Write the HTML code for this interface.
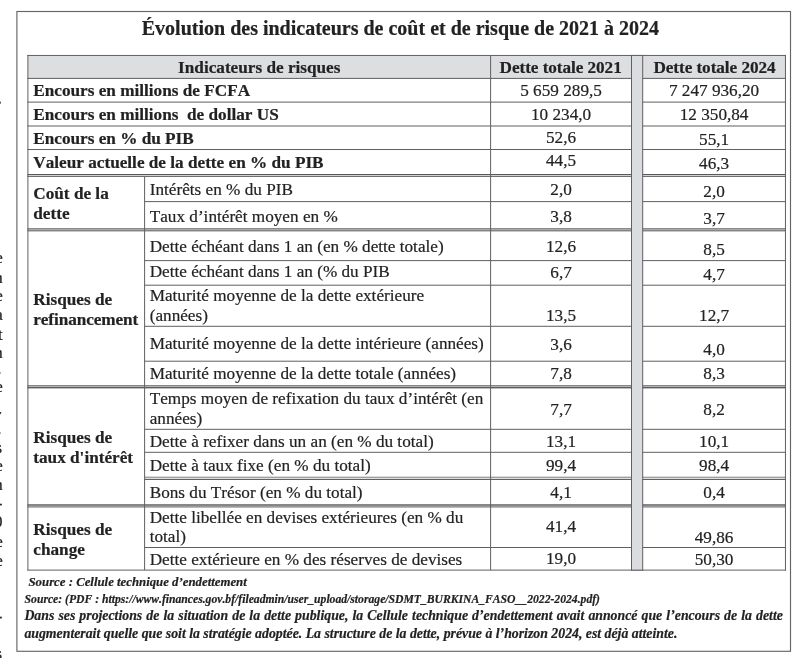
<!DOCTYPE html>
<html lang="fr"><head><meta charset="utf-8"><title>Évolution des indicateurs de coût et de risque de 2021 à 2024</title>
<style>
html,body{margin:0;padding:0;background:#fff;}
body{width:800px;height:658px;position:relative;overflow:hidden;font-family:"Liberation Serif","Times New Roman",serif;color:#222224;}
svg{position:absolute;left:0;top:0;}
.t{position:absolute;white-space:nowrap;font-kerning:none;-webkit-text-stroke:0.2px #222224;}
#tx{position:absolute;left:0;top:0;width:800px;height:658px;will-change:transform;}
.b{font-weight:bold;}
.bi{font-weight:bold;font-style:italic;}
</style></head><body>
<svg width="800" height="658" viewBox="0 0 800 658">
<rect x="27.90" y="55.45" width="757.55" height="22.95" fill="#dddedf"/>
<rect x="27.40" y="54.95" width="758.55" height="1.00" fill="#606062"/>
<rect x="27.40" y="77.90" width="758.55" height="1.00" fill="#606062"/>
<rect x="27.40" y="101.60" width="758.55" height="1.00" fill="#606062"/>
<rect x="27.40" y="125.50" width="758.55" height="1.00" fill="#606062"/>
<rect x="27.40" y="149.00" width="758.55" height="1.00" fill="#606062"/>
<rect x="27.40" y="174.00" width="758.55" height="1.00" fill="#58585a"/>
<rect x="27.40" y="175.00" width="758.55" height="1.00" fill="#d2d2d4"/>
<rect x="27.40" y="176.00" width="758.55" height="0.95" fill="#68686a"/>
<rect x="27.40" y="228.00" width="758.55" height="0.90" fill="#7a7a7c"/>
<rect x="27.40" y="228.90" width="758.55" height="0.90" fill="#acacae"/>
<rect x="27.40" y="229.80" width="758.55" height="1.00" fill="#5e5e60"/>
<rect x="27.40" y="230.80" width="758.55" height="0.80" fill="#a2a2a4"/>
<rect x="27.40" y="385.10" width="758.55" height="1.10" fill="#7a7a7c"/>
<rect x="27.40" y="386.20" width="758.55" height="0.70" fill="#acacae"/>
<rect x="27.40" y="386.90" width="758.55" height="1.10" fill="#5e5e60"/>
<rect x="27.40" y="388.00" width="758.55" height="0.70" fill="#a2a2a4"/>
<rect x="27.40" y="504.15" width="758.55" height="0.85" fill="#727274"/>
<rect x="27.40" y="505.00" width="758.55" height="1.60" fill="#868688"/>
<rect x="27.40" y="506.60" width="758.55" height="0.90" fill="#727274"/>
<rect x="144.60" y="201.10" width="640.85" height="1.00" fill="#606062"/>
<rect x="144.60" y="260.10" width="640.85" height="1.00" fill="#606062"/>
<rect x="144.60" y="284.70" width="640.85" height="1.00" fill="#606062"/>
<rect x="144.60" y="325.80" width="640.85" height="1.00" fill="#606062"/>
<rect x="144.60" y="360.70" width="640.85" height="1.00" fill="#606062"/>
<rect x="144.60" y="428.80" width="640.85" height="1.00" fill="#606062"/>
<rect x="144.60" y="451.80" width="640.85" height="1.00" fill="#606062"/>
<rect x="144.60" y="547.00" width="640.85" height="1.00" fill="#606062"/>
<rect x="144.60" y="476.80" width="640.85" height="0.90" fill="#505052"/>
<rect x="144.60" y="477.70" width="640.85" height="1.35" fill="#dededf"/>
<rect x="144.60" y="479.05" width="640.85" height="0.90" fill="#505052"/>
<rect x="27.40" y="569.60" width="758.55" height="1.00" fill="#606062"/>
<rect x="27.40" y="54.95" width="1.00" height="515.65" fill="#606062"/>
<rect x="784.95" y="54.95" width="1.00" height="515.65" fill="#606062"/>
<rect x="144.10" y="176.80" width="1.00" height="393.30" fill="#606062"/>
<rect x="490.10" y="55.45" width="1.00" height="514.65" fill="#606062"/>
<rect x="631.50" y="55.45" width="11.20" height="514.65" fill="#dadcdf"/>
<rect x="631.00" y="54.95" width="1.00" height="515.65" fill="#606062"/>
<rect x="642.20" y="54.95" width="1.00" height="515.65" fill="#606062"/>
<rect x="631.50" y="54.95" width="11.20" height="1.00" fill="#606062"/>
<rect x="631.50" y="569.60" width="11.20" height="1.00" fill="#606062"/>
<rect x="16.9" y="11.5" width="773.60" height="639.80" fill="none" stroke="#666668" stroke-width="1.15"/>
</svg>
<div id="tx">
<div class="t b" style="left:50.40px;top:17px;font-size:20px;line-height:22px;width:700.00px;text-align:center;">Évolution des indicateurs de coût et de risque de 2021 à 2024</div>
<div class="t b" style="left:159.25px;top:58px;font-size:17.2px;line-height:19px;width:200.00px;text-align:center;">Indicateurs de risques</div>
<div class="t b" style="left:460.65px;top:58px;font-size:17.2px;line-height:19px;width:200.00px;text-align:center;letter-spacing:-0.06px;">Dette totale 2021</div>
<div class="t b" style="left:614.48px;top:58px;font-size:17.2px;line-height:19px;width:200.00px;text-align:center;letter-spacing:-0.06px;">Dette totale 2024</div>
<div class="t b" style="left:33.30px;top:81px;font-size:17.2px;line-height:19px;letter-spacing:0px;">Encours en millions de FCFA</div>
<div class="t r" style="left:461.05px;top:81px;font-size:17.2px;line-height:19px;width:200.00px;text-align:center;">5 659 289,5</div>
<div class="t r" style="left:614.08px;top:81px;font-size:17.2px;line-height:19px;width:200.00px;text-align:center;">7 247 936,20</div>
<div class="t b" style="left:33.30px;top:105px;font-size:17.2px;line-height:19px;letter-spacing:0px;">Encours en millions&nbsp; de dollar US</div>
<div class="t r" style="left:461.05px;top:105px;font-size:17.2px;line-height:19px;width:200.00px;text-align:center;">10 234,0</div>
<div class="t r" style="left:614.08px;top:105px;font-size:17.2px;line-height:19px;width:200.00px;text-align:center;">12 350,84</div>
<div class="t b" style="left:33.30px;top:129px;font-size:17.2px;line-height:19px;letter-spacing:0px;">Encours en % du PIB</div>
<div class="t r" style="left:461.05px;top:128px;font-size:17.2px;line-height:19px;width:200.00px;text-align:center;">52,6</div>
<div class="t r" style="left:614.08px;top:130px;font-size:17.2px;line-height:19px;width:200.00px;text-align:center;">55,1</div>
<div class="t b" style="left:33.30px;top:153px;font-size:17.2px;line-height:19px;letter-spacing:0px;">Valeur actuelle de la dette en % du PIB</div>
<div class="t r" style="left:461.05px;top:151px;font-size:17.2px;line-height:19px;width:200.00px;text-align:center;">44,5</div>
<div class="t r" style="left:614.08px;top:154px;font-size:17.2px;line-height:19px;width:200.00px;text-align:center;">46,3</div>
<div class="t r" style="left:149.70px;top:180px;font-size:17.2px;line-height:19px;">Intérêts en % du PIB</div>
<div class="t r" style="left:461.05px;top:180px;font-size:17.2px;line-height:19px;width:200.00px;text-align:center;">2,0</div>
<div class="t r" style="left:614.08px;top:182px;font-size:17.2px;line-height:19px;width:200.00px;text-align:center;">2,0</div>
<div class="t r" style="left:149.70px;top:207px;font-size:17.2px;line-height:19px;">Taux d’intérêt moyen en %</div>
<div class="t r" style="left:461.05px;top:207px;font-size:17.2px;line-height:19px;width:200.00px;text-align:center;">3,8</div>
<div class="t r" style="left:614.08px;top:209px;font-size:17.2px;line-height:19px;width:200.00px;text-align:center;">3,7</div>
<div class="t r" style="left:149.70px;top:237px;font-size:17.2px;line-height:19px;">Dette échéant dans 1 an (en % dette totale)</div>
<div class="t r" style="left:461.05px;top:237px;font-size:17.2px;line-height:19px;width:200.00px;text-align:center;">12,6</div>
<div class="t r" style="left:614.08px;top:240px;font-size:17.2px;line-height:19px;width:200.00px;text-align:center;">8,5</div>
<div class="t r" style="left:149.70px;top:262px;font-size:17.2px;line-height:19px;">Dette échéant dans 1 an (% du PIB</div>
<div class="t r" style="left:461.05px;top:263px;font-size:17.2px;line-height:19px;width:200.00px;text-align:center;">6,7</div>
<div class="t r" style="left:614.08px;top:265px;font-size:17.2px;line-height:19px;width:200.00px;text-align:center;">4,7</div>
<div class="t r" style="left:149.70px;top:286px;font-size:17.2px;line-height:19px;">Maturité moyenne de la dette extérieure</div>
<div class="t r" style="left:461.05px;top:306px;font-size:17.2px;line-height:19px;width:200.00px;text-align:center;">13,5</div>
<div class="t r" style="left:614.08px;top:306px;font-size:17.2px;line-height:19px;width:200.00px;text-align:center;">12,7</div>
<div class="t r" style="left:149.70px;top:306px;font-size:17.2px;line-height:19px;">(années)</div>
<div class="t r" style="left:149.70px;top:334px;font-size:17.2px;line-height:19px;">Maturité moyenne de la dette intérieure (années)</div>
<div class="t r" style="left:461.05px;top:335px;font-size:17.2px;line-height:19px;width:200.00px;text-align:center;">3,6</div>
<div class="t r" style="left:614.08px;top:340px;font-size:17.2px;line-height:19px;width:200.00px;text-align:center;">4,0</div>
<div class="t r" style="left:149.70px;top:364px;font-size:17.2px;line-height:19px;">Maturité moyenne de la dette totale (années)</div>
<div class="t r" style="left:461.05px;top:364px;font-size:17.2px;line-height:19px;width:200.00px;text-align:center;">7,8</div>
<div class="t r" style="left:614.08px;top:364px;font-size:17.2px;line-height:19px;width:200.00px;text-align:center;">8,3</div>
<div class="t r" style="left:149.70px;top:389px;font-size:17.2px;line-height:19px;">Temps moyen de refixation du taux d’intérêt (en</div>
<div class="t r" style="left:461.05px;top:400px;font-size:17.2px;line-height:19px;width:200.00px;text-align:center;">7,7</div>
<div class="t r" style="left:614.08px;top:400px;font-size:17.2px;line-height:19px;width:200.00px;text-align:center;">8,2</div>
<div class="t r" style="left:149.70px;top:409px;font-size:17.2px;line-height:19px;">années)</div>
<div class="t r" style="left:149.70px;top:432px;font-size:17.2px;line-height:19px;">Dette à refixer dans un an (en % du total)</div>
<div class="t r" style="left:461.05px;top:432px;font-size:17.2px;line-height:19px;width:200.00px;text-align:center;">13,1</div>
<div class="t r" style="left:614.08px;top:432px;font-size:17.2px;line-height:19px;width:200.00px;text-align:center;">10,1</div>
<div class="t r" style="left:149.70px;top:456px;font-size:17.2px;line-height:19px;">Dette à taux fixe (en % du total)</div>
<div class="t r" style="left:461.05px;top:456px;font-size:17.2px;line-height:19px;width:200.00px;text-align:center;">99,4</div>
<div class="t r" style="left:614.08px;top:456px;font-size:17.2px;line-height:19px;width:200.00px;text-align:center;">98,4</div>
<div class="t r" style="left:149.70px;top:483px;font-size:17.2px;line-height:19px;">Bons du Trésor (en % du total)</div>
<div class="t r" style="left:461.05px;top:483px;font-size:17.2px;line-height:19px;width:200.00px;text-align:center;">4,1</div>
<div class="t r" style="left:614.08px;top:483px;font-size:17.2px;line-height:19px;width:200.00px;text-align:center;">0,4</div>
<div class="t r" style="left:149.70px;top:508px;font-size:17.2px;line-height:19px;">Dette libellée en devises extérieures (en % du</div>
<div class="t r" style="left:461.05px;top:517px;font-size:17.2px;line-height:19px;width:200.00px;text-align:center;">41,4</div>
<div class="t r" style="left:614.08px;top:528px;font-size:17.2px;line-height:19px;width:200.00px;text-align:center;">49,86</div>
<div class="t r" style="left:149.70px;top:527px;font-size:17.2px;line-height:19px;">total)</div>
<div class="t r" style="left:149.70px;top:550px;font-size:17.2px;line-height:19px;">Dette extérieure en % des réserves de devises</div>
<div class="t r" style="left:461.05px;top:549px;font-size:17.2px;line-height:19px;width:200.00px;text-align:center;">19,0</div>
<div class="t r" style="left:614.08px;top:550px;font-size:17.2px;line-height:19px;width:200.00px;text-align:center;">50,30</div>
<div class="t b" style="left:33.30px;top:184px;font-size:17.2px;line-height:19px;">Coût de la</div>
<div class="t b" style="left:33.30px;top:204px;font-size:17.2px;line-height:19px;">dette</div>
<div class="t b" style="left:33.30px;top:290px;font-size:17.2px;line-height:19px;">Risques de</div>
<div class="t b" style="left:33.30px;top:310px;font-size:17.2px;line-height:19px;letter-spacing:-0.09px;">refinancement</div>
<div class="t b" style="left:33.30px;top:428px;font-size:17.2px;line-height:19px;">Risques de</div>
<div class="t b" style="left:33.30px;top:448px;font-size:17.2px;line-height:19px;">taux d'intérêt</div>
<div class="t b" style="left:33.30px;top:520px;font-size:17.2px;line-height:19px;">Risques de</div>
<div class="t b" style="left:33.30px;top:540px;font-size:17.2px;line-height:19px;">change</div>
<div class="t bi" style="left:28.50px;top:575px;font-size:12.8px;line-height:14px;">Source : Cellule technique d’endettement</div>
<div class="t bi" style="left:24.60px;top:593px;font-size:11.66px;line-height:13px;">Source: (PDF : https://www.finances.gov.bf/fileadmin/user_upload/storage/SDMT_BURKINA_FASO__2022-2024.pdf)</div>
<div class="t bi" style="left:24.40px;top:608px;font-size:13.8px;line-height:15px;width:758.50px;text-align:justify;text-align-last:justify;">Dans ses projections de la situation de la dette publique, la Cellule technique d’endettement avait annoncé que l’encours de la dette</div>
<div class="t bi" style="left:24.40px;top:626px;font-size:13.8px;line-height:15px;">augmenterait quelle que soit la stratégie adoptée. La structure de la dette, prévue à l’horizon 2024, est déjà atteinte.</div>
<div class="t b" style="left:-20.00px;top:89px;font-size:17px;line-height:19px;width:21.60px;text-align:right;">.</div>
<div class="t r" style="left:-20.00px;top:248px;font-size:17px;line-height:19px;width:22.70px;text-align:right;">e</div>
<div class="t r" style="left:-20.00px;top:268px;font-size:17px;line-height:19px;width:22.70px;text-align:right;">n</div>
<div class="t r" style="left:-20.00px;top:286px;font-size:17px;line-height:19px;width:22.70px;text-align:right;">e</div>
<div class="t r" style="left:-20.00px;top:305px;font-size:17px;line-height:19px;width:22.70px;text-align:right;">a</div>
<div class="t r" style="left:-20.00px;top:325px;font-size:17px;line-height:19px;width:22.70px;text-align:right;">t</div>
<div class="t r" style="left:-20.00px;top:343px;font-size:17px;line-height:19px;width:22.70px;text-align:right;">n</div>
<div class="t r" style="left:-20.00px;top:359px;font-size:17px;line-height:19px;width:21.60px;text-align:right;">.</div>
<div class="t r" style="left:-20.00px;top:377px;font-size:17px;line-height:19px;width:22.70px;text-align:right;">e</div>
<div class="t r" style="left:-20.00px;top:405px;font-size:17px;line-height:19px;width:21.20px;text-align:right;">r</div>
<div class="t r" style="left:-20.00px;top:419px;font-size:17px;line-height:19px;width:21.60px;text-align:right;">.</div>
<div class="t r" style="left:-20.00px;top:438px;font-size:17px;line-height:19px;width:22.10px;text-align:right;">s</div>
<div class="t r" style="left:-20.00px;top:456px;font-size:17px;line-height:19px;width:22.70px;text-align:right;">e</div>
<div class="t r" style="left:-20.00px;top:475px;font-size:17px;line-height:19px;width:22.70px;text-align:right;">n</div>
<div class="t r" style="left:-20.00px;top:494px;font-size:17px;line-height:19px;width:22.30px;text-align:right;">-</div>
<div class="t r" style="left:-20.00px;top:512px;font-size:17px;line-height:19px;width:22.40px;text-align:right;">0</div>
<div class="t r" style="left:-20.00px;top:532px;font-size:17px;line-height:19px;width:22.70px;text-align:right;">e</div>
<div class="t r" style="left:-20.00px;top:551px;font-size:17px;line-height:19px;width:22.70px;text-align:right;">e</div>
<div class="t r" style="left:-20.00px;top:607px;font-size:17px;line-height:19px;width:22.30px;text-align:right;">-</div>
<div class="t r" style="left:-20.00px;top:644px;font-size:17px;line-height:19px;width:22.10px;text-align:right;">s</div>
</div>
</body></html>
